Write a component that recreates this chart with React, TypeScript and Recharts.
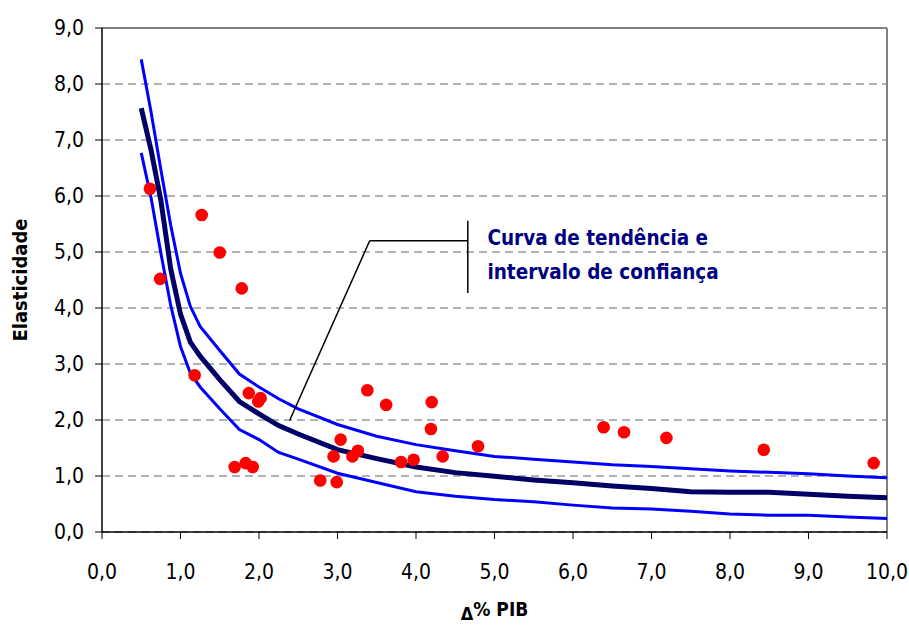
import React from 'react'
import {
  ComposedChart,
  Line,
  Scatter,
  XAxis,
  YAxis,
  CartesianGrid,
  ReferenceLine,
  ReferenceDot,
} from 'recharts'

// observed countries: GDP growth (%) vs elasticity
const pibGrowth = [
  0.61, 0.74, 1.27, 1.5, 1.78, 1.18, 1.87, 2.02, 1.99, 1.69, 1.83, 1.92, 2.78, 2.99, 3.04, 2.95,
  3.26, 3.19, 3.38, 3.62, 4.2, 4.19, 3.81, 3.97, 4.34, 4.79, 6.39, 6.65, 7.19, 8.43, 9.83,
]
const elasticity = [
  6.13, 4.52, 5.66, 4.99, 4.35, 2.8, 2.48, 2.39, 2.33, 1.16, 1.23, 1.16, 0.92, 0.89, 1.65, 1.35,
  1.45, 1.35, 2.53, 2.27, 2.32, 1.84, 1.25, 1.29, 1.35, 1.53, 1.87, 1.78, 1.68, 1.47, 1.23,
]

// trend curve and confidence band
const curveX = [
  0.5, 0.625, 0.75, 0.875, 1.0, 1.125, 1.25, 1.5, 1.75, 2.0, 2.25, 2.5, 3.0, 3.5, 4.0, 4.5, 5.0,
  5.5, 6.0, 6.5, 7.0, 7.5, 8.0, 8.5, 9.0, 9.5, 10.0,
]
const trendY = [
  7.57, 6.82, 5.92, 4.7, 3.89, 3.39, 3.14, 2.72, 2.33, 2.11, 1.9, 1.75, 1.47, 1.31, 1.16, 1.06,
  0.995, 0.93, 0.88, 0.82, 0.775, 0.72, 0.71, 0.71, 0.675, 0.64, 0.61,
]
const upperY = [
  8.44, 7.5, 6.47, 5.48, 4.62, 4.03, 3.67, 3.24, 2.82, 2.59, 2.38, 2.2, 1.92, 1.71, 1.56, 1.45,
  1.35, 1.3, 1.25, 1.2, 1.17, 1.13, 1.09, 1.065, 1.04, 1.0, 0.97,
]
const lowerY = [
  6.77, 5.97, 4.98, 4.05, 3.31, 2.84, 2.59, 2.2, 1.83, 1.65, 1.42, 1.3, 1.05, 0.885, 0.72, 0.64,
  0.58, 0.54, 0.48, 0.43, 0.41, 0.37, 0.32, 0.3, 0.3, 0.27, 0.24,
]

const xTicks = [0, 1, 2, 3, 4, 5, 6, 7, 8, 9, 10]
const yTicks = [0, 1, 2, 3, 4, 5, 6, 7, 8, 9]

const points = pibGrowth.map((x, i) => ({ x, y: elasticity[i] }))
const trend = curveX.map((x, i) => ({ x, y: trendY[i] }))
const upper = curveX.map((x, i) => ({ x, y: upperY[i] }))
const lower = curveX.map((x, i) => ({ x, y: lowerY[i] }))

const font = '"DejaVu Sans Condensed", "DejaVu Sans", sans-serif'
const fmt = (v: number) => v.toFixed(1).replace('.', ',')

const Dot = (props: any) => <circle cx={props.cx} cy={props.cy} r={6.3} fill="#ff0000" />

const XLabel = (props: any) => {
  const vb = props.viewBox
  return (
    <text
      x={vb.x + vb.width / 2}
      y={vb.y + 84}
      textAnchor="middle"
      fontFamily={font}
      fontWeight="bold"
      fontSize={19}
      fill="#000"
    >
      <tspan dy={4} fontSize={18}>Δ</tspan>
      <tspan dy={-4}>% PIB</tspan>
    </text>
  )
}

const YLabel = (props: any) => {
  const vb = props.viewBox
  const cy = vb.y + vb.height / 2
  return (
    <text
      x={20}
      y={cy}
      transform={`rotate(-90, 20, ${cy})`}
      textAnchor="middle"
      dominantBaseline="central"
      fontFamily={font}
      fontWeight="bold"
      fontSize={20}
      fill="#000"
    >
      Elasticidade
    </text>
  )
}

const Note = (props: any) => {
  const vb = props.viewBox
  return (
    <text x={vb.x} y={vb.y} fontFamily={font} fontWeight="bold" fontSize={20.5} fill="#000080">
      <tspan x={vb.x}>Curva de tendência e</tspan>
      <tspan x={vb.x} dy={34}>intervalo de confiança</tspan>
    </text>
  )
}

export default function App() {
  return (
    <div style={{ position: 'absolute', left: 0, top: 0, width: 909, height: 626, background: '#fff' }}>
      <ComposedChart width={909} height={626} margin={{ top: 28, right: 22, bottom: 0, left: 0 }}>
        <CartesianGrid vertical={false} stroke="#666" strokeDasharray="8 5" />
        <XAxis
          type="number"
          dataKey="x"
          domain={[0, 10]}
          ticks={xTicks}
          tickFormatter={fmt}
          height={94}
          tickSize={7}
          tickMargin={25}
          axisLine={{ stroke: '#000', strokeWidth: 1.5 }}
          tickLine={{ stroke: '#000' }}
          tick={{ fill: '#000', fontSize: 21, fontFamily: font }}
          label={<XLabel />}
        />
        <YAxis
          type="number"
          domain={[0, 9]}
          ticks={yTicks}
          tickFormatter={fmt}
          width={102}
          tickSize={7}
          tickMargin={11}
          axisLine={{ stroke: '#000', strokeWidth: 1.5 }}
          tickLine={{ stroke: '#000' }}
          tick={{ fill: '#000', fontSize: 21, fontFamily: font }}
          label={<YLabel />}
        />
        <ReferenceLine y={9} stroke="#808080" strokeWidth={2} />
        <ReferenceLine x={10} stroke="#808080" strokeWidth={2} />
        <Line data={upper} dataKey="y" type="linear" stroke="#0000ff" strokeWidth={3} dot={false} isAnimationActive={false} />
        <Line data={lower} dataKey="y" type="linear" stroke="#0000ff" strokeWidth={3} dot={false} isAnimationActive={false} />
        <Line data={trend} dataKey="y" type="linear" stroke="#000066" strokeWidth={5} dot={false} isAnimationActive={false} />
        <ReferenceLine segment={[{ x: 3.41, y: 5.2 }, { x: 4.66, y: 5.2 }]} stroke="#000" strokeWidth={1.5} />
        <ReferenceLine segment={[{ x: 4.66, y: 5.56 }, { x: 4.66, y: 4.27 }]} stroke="#000" strokeWidth={1.5} />
        <ReferenceLine segment={[{ x: 3.41, y: 5.2 }, { x: 2.39, y: 1.99 }]} stroke="#000" strokeWidth={1.5} />
        <ReferenceDot x={4.91} y={5.13} r={0} fill="none" stroke="none" label={<Note />} />
        <Scatter data={points} dataKey="y" shape={<Dot />} isAnimationActive={false} />
      </ComposedChart>
    </div>
  )
}
